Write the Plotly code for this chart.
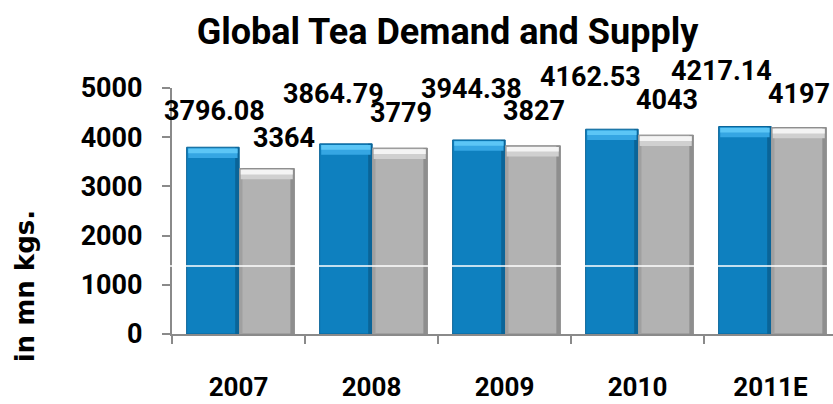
import plotly.graph_objects as go

# ---- data ----
categories = ["2007", "2008", "2009", "2010", "2011E"]
demand = [3796.08, 3864.79, 3944.38, 4162.53, 4217.14]
supply = [3364, 3779, 3827, 4043, 4197]
demand_labels = ["3796.08", "3864.79", "3944.38", "4162.53", "4217.14"]
supply_labels = ["3364", "3779", "3827", "4043", "4197"]
y_ticks = [0, 1000, 2000, 3000, 4000, 5000]

# ---- style (label offsets in px) ----
demand_dx = [-24.5, -38.5, -32.5, -46.5, -48.5]
demand_dy = [36, 50, 51, 52, 56]
supply_dx = [45.5, 29.5, 29.5, 29.5, 28.5]
supply_dy = [30, 35, 35, 35, 34]

BLUE = "#0E80BF"
BLUE_EDGE = "#0A6498"
BLUE_L1 = "#35A6E3"
BLUE_L2 = "#5CC6F6"
GREY = "#B2B2B2"
GREY_EDGE = "#8E8E8E"
GREY_L1 = "#D0D0D0"
GREY_L2 = "#F4F4F4"
AXIS = "#8A8A8A"
FONT = "Roboto"

B_OFF, B_W = -0.39, 0.395
G_OFF, G_W = 0.005, 0.415
BAND1, BAND2 = 220, 120   # bevel depths in data units
TOPGAP = 25

fig = go.Figure()


def bar(y, off, w, color, base=None, line_color=None, lw=0):
    fig.add_trace(go.Bar(
        x=categories, y=y, base=base, offset=off, width=w,
        marker=dict(color=color, line=dict(color=line_color or color, width=lw)),
        hoverinfo="skip", showlegend=False))


# main bars
bar(demand, B_OFF, B_W, BLUE, line_color=BLUE_EDGE, lw=1)
bar(supply, G_OFF, G_W, GREY, line_color=GREY_EDGE, lw=1)
# side shading strips
bar(demand, B_OFF + B_W - 0.03, 0.03, BLUE_EDGE)
bar(supply, G_OFF, 0.025, "#A0A0A0")
bar(supply, G_OFF + G_W - 0.03, 0.03, GREY_EDGE)
# top bevels
bar([BAND1 - TOPGAP] * len(demand), B_OFF + 0.012, B_W - 0.024, BLUE_L1,
    base=[v - BAND1 for v in demand])
bar([BAND2 - TOPGAP] * len(demand), B_OFF + 0.012, B_W - 0.024, BLUE_L2,
    base=[v - BAND2 for v in demand])
bar([BAND1 - TOPGAP] * len(supply), G_OFF + 0.012, G_W - 0.024, GREY_L1,
    base=[v - BAND1 for v in supply])
bar([BAND2 - TOPGAP] * len(supply), G_OFF + 0.012, G_W - 0.024, GREY_L2,
    base=[v - BAND2 for v in supply])

label_font = dict(family=FONT, size=27, color="black", weight="bold")
annotations = []
for i, (v, t, dx, dy) in enumerate(zip(demand, demand_labels, demand_dx, demand_dy)):
    annotations.append(dict(x=i, y=v, text=t, showarrow=False, xshift=dx, yshift=dy,
                            xanchor="center", yanchor="middle", font=label_font))
for i, (v, t, dx, dy) in enumerate(zip(supply, supply_labels, supply_dx, supply_dy)):
    annotations.append(dict(x=i, y=v, text=t, showarrow=False, xshift=dx, yshift=dy,
                            xanchor="center", yanchor="middle", font=label_font))

# y axis title
annotations.append(dict(xref="paper", yref="paper", x=-0.222, y=0.195, text="in mn kgs.",
                        textangle=-90, showarrow=False, xanchor="center", yanchor="middle",
                        font=dict(family="DejaVu Sans", size=26, color="black", weight="bold")))

fig.update_layout(
    width=833, height=404,
    margin=dict(l=172, r=0, t=88, b=70),
    paper_bgcolor="white", plot_bgcolor="white",
    barmode="overlay",
    title=dict(text="Global Tea Demand and Supply", x=447.5 / 833, xanchor="center",
               y=1 - 31 / 404, yanchor="middle", xref="container", yref="container",
               font=dict(family=FONT, size=36, color="black", weight="bold")),
    annotations=annotations,
    shapes=[dict(type="line", xref="paper", x0=-0.005, x1=1, yref="y", y0=1380, y1=1380,
                 line=dict(color="white", width=1.5), layer="above")],
    xaxis=dict(type="category", range=[-0.5, 4.47], showline=True, linecolor=AXIS, linewidth=2,
               ticks="outside", tickson="boundaries", ticklen=8, tickwidth=2, tickcolor=AXIS,
               ticklabelstandoff=29, showgrid=False, zeroline=False,
               tickfont=dict(family=FONT, size=26, color="black", weight="bold")),
    yaxis=dict(range=[0, 5000], tickvals=y_ticks, showline=True, linecolor=AXIS, linewidth=2,
               ticks="outside", ticklen=8, tickwidth=2, tickcolor=AXIS,
               ticklabelstandoff=14, showgrid=False, zeroline=False,
               tickfont=dict(family=FONT, size=27, color="black", weight="bold")),
)

fig.write_html("out.html")
